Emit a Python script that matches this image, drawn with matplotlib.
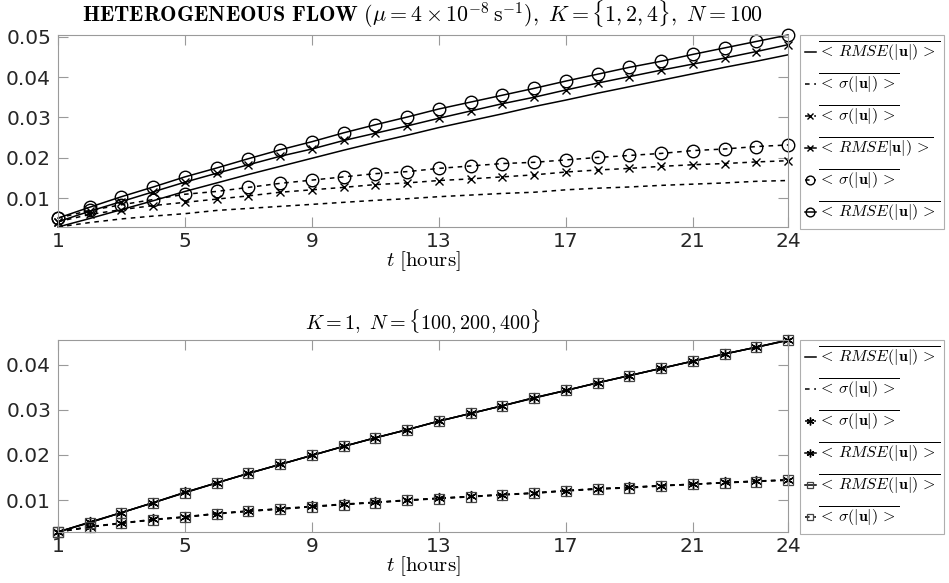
import matplotlib
matplotlib.use("Agg")
import matplotlib.pyplot as plt

plt.rcParams['font.family'] = ['DejaVu Sans']
plt.rcParams['mathtext.fontset'] = 'cm'

hours = list(range(1, 25))

# K = 1, N = 100 (also shown in the lower panel)
rmse_k1 = [0.0029, 0.0050, 0.0072, 0.0094, 0.0117, 0.0138, 0.0159, 0.0179,
           0.0199, 0.0219, 0.0238, 0.0256, 0.0275, 0.0292, 0.0309, 0.0327,
           0.0343, 0.0360, 0.0376, 0.0392, 0.0408, 0.0424, 0.0439, 0.0455]
sigma_k1 = [0.0029, 0.0040, 0.0049, 0.0056, 0.0062, 0.0070, 0.0075, 0.0080,
            0.0085, 0.0090, 0.0095, 0.0099, 0.0104, 0.0108, 0.0112, 0.0115,
            0.0121, 0.0125, 0.0128, 0.0132, 0.0135, 0.0138, 0.0142, 0.0144]

# K = 2, N = 100
rmse_k2 = [0.0042, 0.0068, 0.0092, 0.0116, 0.0140, 0.0162, 0.0183, 0.0204,
           0.0222, 0.0243, 0.0261, 0.0279, 0.0298, 0.0316, 0.0334, 0.0350,
           0.0368, 0.0385, 0.0401, 0.0417, 0.0432, 0.0447, 0.0463, 0.0480]
sigma_k2 = [0.0042, 0.0060, 0.0072, 0.0082, 0.0090, 0.0098, 0.0106, 0.0115,
            0.0121, 0.0127, 0.0134, 0.0138, 0.0144, 0.0148, 0.0153, 0.0158,
            0.0165, 0.0170, 0.0174, 0.0179, 0.0183, 0.0186, 0.0190, 0.0193]

# K = 4, N = 100
rmse_k4 = [0.0051, 0.0078, 0.0104, 0.0128, 0.0153, 0.0175, 0.0198, 0.0220,
           0.0240, 0.0262, 0.0282, 0.0301, 0.0321, 0.0338, 0.0355, 0.0372,
           0.0390, 0.0407, 0.0424, 0.0439, 0.0456, 0.0472, 0.0488, 0.0504]
sigma_k4 = [0.0051, 0.0070, 0.0084, 0.0097, 0.0110, 0.0117, 0.0127, 0.0137,
            0.0145, 0.0153, 0.0161, 0.0166, 0.0174, 0.0180, 0.0186, 0.0189,
            0.0195, 0.0201, 0.0206, 0.0211, 0.0218, 0.0222, 0.0228, 0.0232]

# K = 1, N = 200 and N = 400
rmse_n200 = [0.0029, 0.0051, 0.0072, 0.0094, 0.0117, 0.0138, 0.0159, 0.0179,
             0.0199, 0.0219, 0.0238, 0.0256, 0.0275, 0.0292, 0.0309, 0.0327,
             0.0343, 0.0360, 0.0376, 0.0392, 0.0408, 0.0424, 0.0439, 0.0454]
sigma_n200 = [0.0029, 0.0041, 0.0049, 0.0057, 0.0063, 0.0070, 0.0076, 0.0081,
              0.0086, 0.0091, 0.0095, 0.0100, 0.0104, 0.0108, 0.0112, 0.0116,
              0.0121, 0.0125, 0.0128, 0.0132, 0.0135, 0.0139, 0.0142, 0.0145]
rmse_n400 = [0.0029, 0.0050, 0.0072, 0.0094, 0.0116, 0.0138, 0.0159, 0.0179,
             0.0199, 0.0219, 0.0238, 0.0256, 0.0275, 0.0292, 0.0309, 0.0326,
             0.0343, 0.0360, 0.0376, 0.0392, 0.0408, 0.0424, 0.0439, 0.0455]
sigma_n400 = [0.0029, 0.0040, 0.0048, 0.0056, 0.0062, 0.0069, 0.0075, 0.0080,
              0.0085, 0.0090, 0.0094, 0.0099, 0.0103, 0.0107, 0.0111, 0.0115,
              0.0120, 0.0124, 0.0127, 0.0131, 0.0135, 0.0138, 0.0141, 0.0144]

x_ticks = [1, 5, 9, 13, 17, 21, 24]
top_yticks = [0.01, 0.02, 0.03, 0.04, 0.05]
bottom_yticks = [0.01, 0.02, 0.03, 0.04]

lbl_rmse = r'$\overline{<\,RMSE(|\mathbf{u}|)\,>}$'
lbl_rmse_typo = r'$\overline{<\,RMSE|\mathbf{u}|)\,>}$'
lbl_sigma = r'$\overline{<\,\sigma(|\mathbf{u}|)\,>}$'

TICK_FS = 14.5
LEG_FS = 11.5
SPINE = '#9a9a9a'
TXT = '#262626'

fig = plt.figure(figsize=(9.49, 5.83), dpi=100)
W, H = 949, 583


def make_axes(left, top, right, bottom):
    return fig.add_axes([left / W, 1 - bottom / H, (right - left) / W, (bottom - top) / H])


def style(ax, yticks, series):
    ax.set_xlim(1, 24)
    lo = min(min(s) for s in series)
    hi = max(max(s) for s in series)
    ax.set_ylim(lo, hi)
    ax.set_xticks(x_ticks)
    ax.set_yticks(yticks)
    ax.set_xticklabels([str(v) for v in x_ticks])
    ax.set_yticklabels(['%.2f' % v for v in yticks])
    ax.tick_params(direction='in', length=7, width=0.8, color=SPINE,
                   labelsize=TICK_FS, labelcolor=TXT, top=True, right=True, pad=5)
    ax.tick_params(axis='x', pad=3.5)
    for sp in ax.spines.values():
        sp.set_color(SPINE)
        sp.set_linewidth(0.8)
    ax.set_xlabel(r'$t\ \mathrm{[hours]}$', fontsize=15, labelpad=-1)


lw = 1.1
common = dict(color='k', lw=lw, clip_on=False)

# Upper panel: K = {1, 2, 4}
ax1 = make_axes(58, 35, 788, 227)
ax1.plot(hours, rmse_k1, '-', label=lbl_rmse, **common)
ax1.plot(hours, sigma_k1, '--', dashes=(3, 3), label=lbl_sigma, **common)
ax1.plot(hours, sigma_k2, '--', dashes=(3, 3), marker='x', ms=6, mew=1.0,
         label=lbl_sigma, **common)
ax1.plot(hours, rmse_k2, '-', marker='x', ms=6, mew=1.0,
         label=lbl_rmse_typo, **common)
ax1.plot(hours, sigma_k4, '--', dashes=(3, 3), marker='o', ms=9, mfc='none',
         mew=1.0, label=lbl_sigma, **common)
ax1.plot(hours, rmse_k4, '-', marker='o', ms=9, mfc='none', mew=1.0,
         label=lbl_rmse, **common)
style(ax1, top_yticks, [rmse_k1, sigma_k1, rmse_k2, sigma_k2, rmse_k4, sigma_k4])
ax1.set_title(r'$\mathbf{HETEROGENEOUS\ FLOW}\ (\mu = 4\times10^{-8}\,\mathrm{s}^{-1}),\ K=\{1,2,4\},\ N=100$',
              fontsize=15.8, pad=9)

# Lower panel: K = 1, N = {100, 200, 400}
ast = (6, 2, 0)
ax2 = make_axes(58, 340, 788, 532)
ax2.plot(hours, rmse_k1, '-', label=lbl_rmse, **common)
ax2.plot(hours, sigma_k1, '--', dashes=(3, 3), label=lbl_sigma, **common)
ax2.plot(hours, sigma_n200, '--', dashes=(3, 3), marker=ast, ms=8, mew=1.0,
         label=lbl_sigma, **common)
ax2.plot(hours, rmse_n200, '-', marker=ast, ms=8, mew=1.0,
         label=lbl_rmse, **common)
ax2.plot(hours, rmse_n400, '-', marker='s', ms=7, mfc='none', mec='#444444',
         mew=0.9, label=lbl_rmse, **common)
ax2.plot(hours, sigma_n400, '--', dashes=(3, 3), marker='s', ms=7, mfc='none',
         mec='#444444', mew=0.9, label=lbl_sigma, **common)
style(ax2, bottom_yticks, [rmse_k1, sigma_k1, rmse_n200, sigma_n200, rmse_n400, sigma_n400])
ax2.set_title(r'$K=1,\ N=\{100,200,400\}$', fontsize=14.5, pad=8)

for ax in (ax1, ax2):
    leg = ax.legend(loc='upper left', bbox_to_anchor=(1.0164, 1.0), fontsize=LEG_FS,
                    handlelength=0.7, handletextpad=0.1, borderpad=0.3,
                    labelspacing=0.5, frameon=True, fancybox=False,
                    borderaxespad=0, markerscale=0.7)
    leg.get_frame().set_edgecolor(SPINE)
    leg.get_frame().set_linewidth(0.8)

fig.savefig('out.png', dpi=100)
